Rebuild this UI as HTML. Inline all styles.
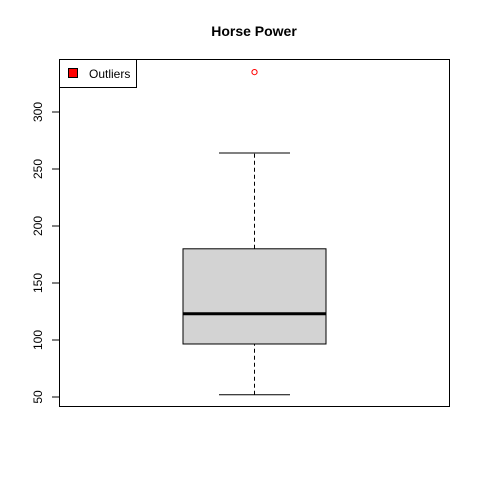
<!DOCTYPE html>
<html><head><meta charset="utf-8"><style>
body{margin:0;background:#fff;}
svg{display:block;font-family:"Liberation Sans",Arial,sans-serif;}
</style></head><body>
<svg id="chart" width="480" height="480" viewBox="0 0 480 480">
<rect x="0" y="0" width="480" height="480" fill="#fff"/>
<text x="254" y="36" text-anchor="middle" font-size="14" font-weight="bold">Horse Power</text>
<rect x="59.5" y="59.5" width="390" height="347" fill="none" stroke="#000"/>
<g id="axis"></g>
<g id="box"></g>
<g>
<rect x="59.5" y="59.5" width="77" height="28" fill="#fff" stroke="#000"/>
<rect x="68.5" y="68.5" width="9" height="9" fill="#ff0000" stroke="#000"/>
<text x="89" y="78" font-size="12">Outliers</text>
</g>
</svg>
<script>
const ticks=[50,100,150,200,250,300];
const stats=[52,96.5,123,180,264]; // min, q1, median, q3, max whisker
const outliers=[335];
const NS="http://www.w3.org/2000/svg";
function y(v){return 397-(v-50)*1.14;}
function mk(tag,attrs,parent){const e=document.createElementNS(NS,tag);for(const k in attrs)e.setAttribute(k,attrs[k]);parent.appendChild(e);return e;}
const ax=document.getElementById('axis');
const bx=document.getElementById('box');
mk('line',{x1:59.5,x2:59.5,y1:y(ticks[0]),y2:y(ticks[ticks.length-1]),stroke:'#000'},ax);
ticks.forEach(t=>{
 const l=mk('line',{x1:52,x2:59.5,y1:y(t),y2:y(t),stroke:'#000'},ax);
 
 
 const tx=mk('text',{x:0,y:0,'font-size':12,'text-anchor':'middle',transform:`translate(42,${y(t)}) rotate(-90)`},ax);
 tx.textContent=t;
 
 
});
const cx=254.5,x0=183,x1=326;
let e;
e=mk('line',{x1:cx,x2:cx,y1:y(stats[0]),y2:y(stats[1]),stroke:'#000','stroke-dasharray':'4,3'},bx);

e=mk('line',{x1:cx,x2:cx,y1:y(stats[3]),y2:y(stats[4]),stroke:'#000','stroke-dasharray':'4,3'},bx);

e=mk('line',{x1:219,x2:290,y1:y(stats[0]),y2:y(stats[0]),stroke:'#000'},bx);

e=mk('line',{x1:219,x2:290,y1:y(stats[4]),y2:y(stats[4]),stroke:'#000'},bx);

e=mk('rect',{x:x0,y:y(stats[3]),width:x1-x0,height:y(stats[1])-y(stats[3]),fill:'#d3d3d3',stroke:'#000'},bx);

e=mk('line',{x1:x0,x2:x1,y1:y(stats[2]),y2:y(stats[2]),stroke:'#000','stroke-width':3},bx);

outliers.forEach(o=>{
 const c=mk('circle',{cx:cx,cy:y(o),r:2.6,fill:'none',stroke:'#ff0000'},bx);
 
 
});
</script>
</body></html>
